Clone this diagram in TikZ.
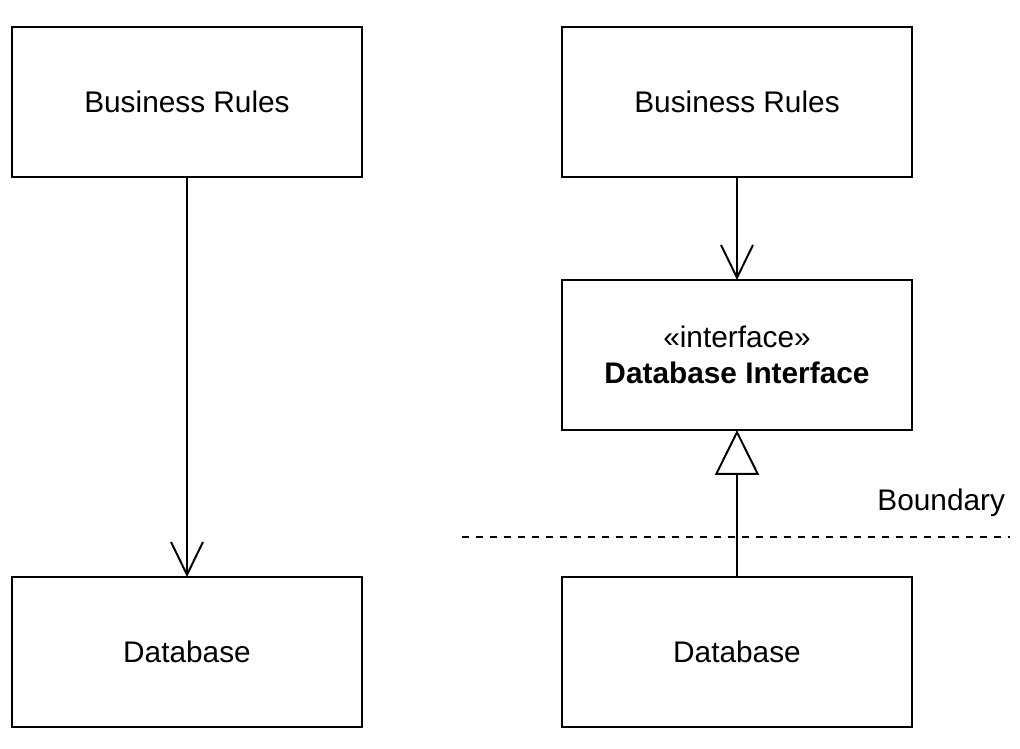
\documentclass[tikz,border=0pt]{standalone}
\usepackage{fontspec}
\setmainfont{Liberation Sans}
\usetikzlibrary{arrows.meta, positioning}

\begin{document}
\begin{tikzpicture}[node distance=2.575cm, line width=1.4pt,
    box/.style={draw, outer sep=0pt, minimum width=8.75cm, minimum height=3.75cm, align=center, font=\fontsize{21.2}{25.6}\selectfont},
    uses/.style={-{Straight Barb[length=0.82cm, width=0.8cm]}},
    realizes/.style={-{Triangle[open, fill=white, length=1.12cm, width=1.1cm]}}]
    \useasboundingbox (0,0) rectangle (25.5,-18.7);
    % left: direct dependency
    \node[box] (bl) at (4.675,-2.55) {Business Rules};
    \node[box, below=10cm of bl] (dl) {Database};
    % right: inverted via interface
    \node[box, right=5cm of bl] (br) {Business Rules};
    \node[box, below=of br] (ir) {«interface»\\\textbf{Database Interface}};
    \node[box, below=3.675cm of ir] (dr) {Database};
    \coordinate (b1) at (11.55,-13.425);
    \coordinate (b2) at (25.25,-13.425);
    \node[font=\fontsize{21.2}{25.6}\selectfont, anchor=south east, inner sep=0pt] (bnd) at (25.15,-12.95) {Boundary};
    \draw[uses] (bl) -- (dl);
    \draw[uses] (br) -- (ir);
    \draw[realizes] (dr) -- (ir);
    \draw[dash pattern=on 0.175cm off 0.175cm] (b1) -- (b2);
\end{tikzpicture}
\end{document}
